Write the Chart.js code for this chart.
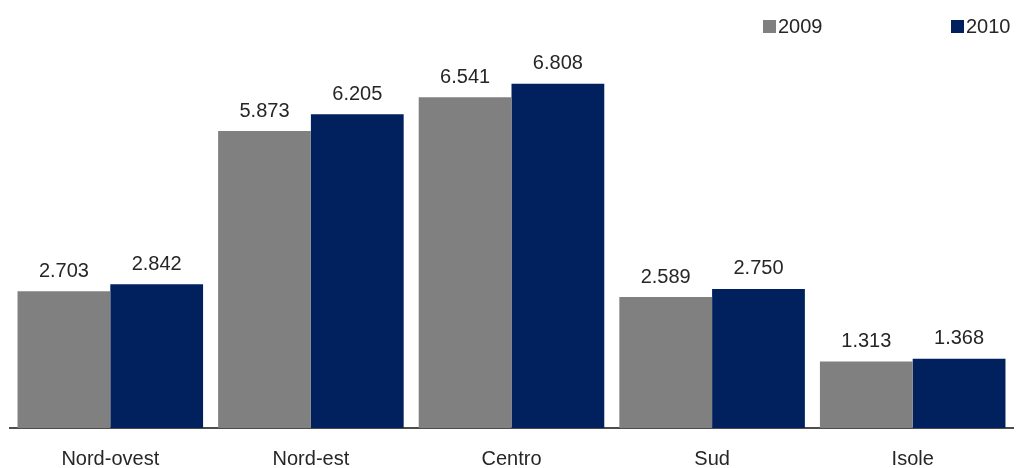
<!DOCTYPE html>
<html>
<head>
<meta charset="utf-8">
<script src="https://cdn.jsdelivr.net/npm/chart.js@4"></script>
<style>
  html, body { margin: 0; padding: 0; background: #fff; }
  #wrap { width: 1016px; height: 468px; }
</style>
</head>
<body>
<div id="wrap"><canvas id="regioni"></canvas></div>
<script>
const ctx = document.getElementById('regioni').getContext('2d');

// dati
const aree = ['Nord-ovest', 'Nord-est', 'Centro', 'Sud', 'Isole'];
const anni = ['2009', '2010'];
const valori2009 = [2703, 5873, 6541, 2589, 1313];
const valori2010 = [2842, 6205, 6808, 2750, 1368];

const FONT = '"Liberation Sans Narrow", "Arial Narrow", "Liberation Sans", sans-serif';

// formato italiano: 2.703
const fmt = v => String(v).replace(/\B(?=(\d{3})+(?!\d))/g, '.');

// etichette sopra le barre + legenda a destra
const etichette = {
    id: 'etichette',
    afterDatasetsDraw(chart) {
        const c = chart.ctx;
        c.save();
        c.font = '20px ' + FONT;
        c.fillStyle = '#262626';
        c.textAlign = 'center';
        c.textBaseline = 'bottom';
        chart.data.datasets.forEach((ds, i) => {
            chart.getDatasetMeta(i).data.forEach((bar, j) => {
                c.fillText(fmt(ds.data[j]), bar.x, bar.y - 10);
            });
        });
        // legenda
        const pos = [763, 951];
        c.textAlign = 'left';
        c.textBaseline = 'middle';
        chart.data.datasets.forEach((ds, i) => {
            c.fillStyle = ds.backgroundColor;
            c.fillRect(pos[i], 20, 13, 13);
            c.fillStyle = '#262626';
            c.fillText(ds.label, pos[i] + 15, 27);
        });
        c.restore();
    }
};

new Chart(ctx, {
    type: 'bar',
    data: {
        labels: aree,
        datasets: [{
            label: anni[0],
            data: valori2009,
            backgroundColor: '#808080',
            categoryPercentage: 0.925,
            barPercentage: 1
        }, {
            label: anni[1],
            data: valori2010,
            backgroundColor: '#00205e',
            categoryPercentage: 0.925,
            barPercentage: 1
        }]
    },
    options: {
        responsive: true,
        maintainAspectRatio: false,
        animation: false,
        layout: { padding: { top: 74, left: 10, right: 3, bottom: -22 } },
        plugins: {
            legend: { display: false },
            tooltip: { enabled: false }
        },
        scales: {
            x: {
                grid: { display: false, drawTicks: false },
                border: { display: true, color: '#4d4d4d', width: 2 },
                ticks: { color: '#262626', font: { family: FONT, size: 20, lineHeight: 1.2 }, padding: 19 }
            },
            y: {
                display: false,
                min: 0,
                max: 7000
            }
        }
    },
    plugins: [etichette]
});
</script>
</body>
</html>
